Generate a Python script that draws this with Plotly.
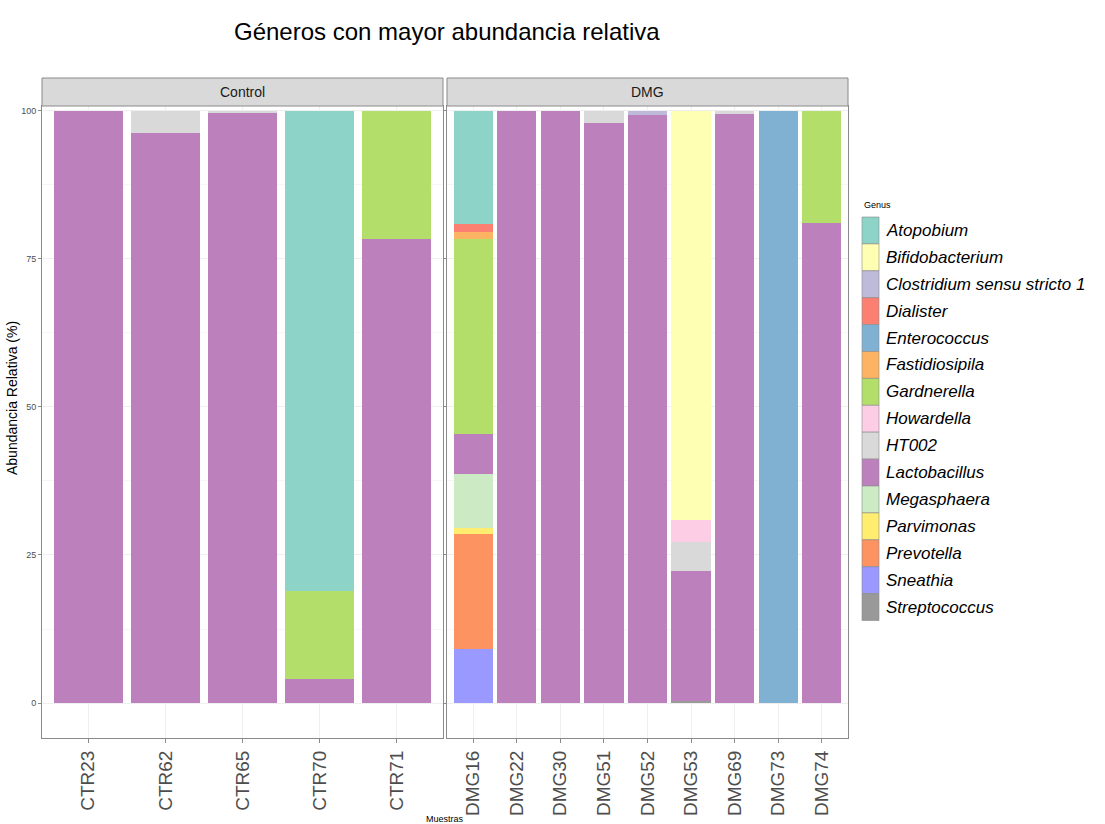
import plotly.graph_objects as go

# Samples per group (facet panels)
control_samples = ["CTR23", "CTR62", "CTR65", "CTR70", "CTR71"]
dmg_samples = ["DMG16", "DMG22", "DMG30", "DMG51", "DMG52", "DMG53", "DMG69", "DMG73", "DMG74"]

# Genus levels (legend order; first level drawn at the top of each stack)
genera = [
    "Atopobium", "Bifidobacterium", "Clostridium sensu stricto 1", "Dialister",
    "Enterococcus", "Fastidiosipila", "Gardnerella", "Howardella", "HT002",
    "Lactobacillus", "Megasphaera", "Parvimonas", "Prevotella", "Sneathia",
    "Streptococcus",
]

genus_colors = [
    "#8DD3C7", "#FFFFB3", "#BEBADA", "#FB8072", "#80B1D3", "#FDB462", "#B3DE69",
    "#FCCDE5", "#D9D9D9", "#BC80BD", "#CCEBC5", "#FFED6F", "#FC9360", "#9999FF",
    "#999999",
]

# Relative abundance (%) per genus: Control samples, then DMG samples
atopobium_ctrl = [0, 0, 0, 81.1, 0]
atopobium_dmg = [19.1, 0, 0, 0, 0, 0, 0, 0, 0]
bifidobacterium_ctrl = [0, 0, 0, 0, 0]
bifidobacterium_dmg = [0, 0, 0, 0, 0, 69.1, 0, 0, 0]
clostridium_ctrl = [0, 0, 0, 0, 0]
clostridium_dmg = [0, 0, 0, 0, 0.7, 0, 0, 0, 0]
dialister_ctrl = [0, 0, 0, 0, 0]
dialister_dmg = [1.3, 0, 0, 0, 0, 0, 0, 0, 0]
enterococcus_ctrl = [0, 0, 0, 0, 0]
enterococcus_dmg = [0, 0, 0, 0, 0, 0, 0, 100, 0]
fastidiosipila_ctrl = [0, 0, 0, 0, 0]
fastidiosipila_dmg = [1.3, 0, 0, 0, 0, 0, 0, 0, 0]
gardnerella_ctrl = [0, 0, 0, 14.9, 21.6]
gardnerella_dmg = [32.8, 0, 0, 0, 0, 0, 0, 0, 18.9]
howardella_ctrl = [0, 0, 0, 0, 0]
howardella_dmg = [0, 0, 0, 0, 0, 3.7, 0, 0, 0]
ht002_ctrl = [0, 3.8, 0.4, 0, 0]
ht002_dmg = [0, 0, 0, 2.0, 0, 4.9, 0.5, 0, 0]
lactobacillus_ctrl = [100, 96.2, 99.6, 4.0, 78.4]
lactobacillus_dmg = [6.9, 100, 100, 98.0, 99.3, 21.9, 99.5, 0, 81.1]
megasphaera_ctrl = [0, 0, 0, 0, 0]
megasphaera_dmg = [9.0, 0, 0, 0, 0, 0, 0, 0, 0]
parvimonas_ctrl = [0, 0, 0, 0, 0]
parvimonas_dmg = [1.1, 0, 0, 0, 0, 0, 0, 0, 0]
prevotella_ctrl = [0, 0, 0, 0, 0]
prevotella_dmg = [19.4, 0, 0, 0, 0, 0, 0, 0, 0]
sneathia_ctrl = [0, 0, 0, 0, 0]
sneathia_dmg = [9.1, 0, 0, 0, 0, 0, 0, 0, 0]
streptococcus_ctrl = [0, 0, 0, 0, 0]
streptococcus_dmg = [0, 0, 0, 0, 0, 0.4, 0, 0, 0]

ctrl_values = [
    atopobium_ctrl, bifidobacterium_ctrl, clostridium_ctrl, dialister_ctrl,
    enterococcus_ctrl, fastidiosipila_ctrl, gardnerella_ctrl, howardella_ctrl,
    ht002_ctrl, lactobacillus_ctrl, megasphaera_ctrl, parvimonas_ctrl,
    prevotella_ctrl, sneathia_ctrl, streptococcus_ctrl,
]
dmg_values = [
    atopobium_dmg, bifidobacterium_dmg, clostridium_dmg, dialister_dmg,
    enterococcus_dmg, fastidiosipila_dmg, gardnerella_dmg, howardella_dmg,
    ht002_dmg, lactobacillus_dmg, megasphaera_dmg, parvimonas_dmg,
    prevotella_dmg, sneathia_dmg, streptococcus_dmg,
]

y_ticks = [0, 25, 50, 75, 100]

W, H = 1105, 824
SANS = "Liberation Sans, Arial, sans-serif"


def px_x(p):
    return p / W


def px_y(p):
    return 1 - p / H


fig = go.Figure()

# Stack from the bottom up: last genus level first
for name, color, cv, dv in reversed(list(zip(genera, genus_colors, ctrl_values, dmg_values))):
    fig.add_trace(go.Bar(x=control_samples, y=cv, name=name, marker_color=color,
                         marker_line_width=0, xaxis="x", yaxis="y", showlegend=False))
    fig.add_trace(go.Bar(x=dmg_samples, y=dv, name=name, marker_color=color,
                         marker_line_width=0, xaxis="x2", yaxis="y2", showlegend=False))

panel_left = (42, 443)
panel_right = (447, 848)
panel_top, panel_bottom = 106, 738
strip_top = 78

axis_common = dict(
    type="category", showline=True, mirror=True, linecolor="#8A8A8A", linewidth=1,
    showgrid=True, gridcolor="#EFEFEF", gridwidth=1, ticks="outside", ticklen=4,
    tickcolor="#8A8A8A", tickangle=-90,
    tickfont=dict(family=SANS, size=19, color="#4D4D4D"), zeroline=False,
)
yaxis_common = dict(
    range=[-5.9, 100.8], tickvals=y_ticks, showline=True, mirror=True,
    linecolor="#8A8A8A", linewidth=1, showgrid=True, gridcolor="#EFEFEF",
    zeroline=False, ticks="outside", ticklen=3, tickcolor="#8A8A8A",
    minor=dict(showgrid=True, gridcolor="#F6F6F6", dtick=12.5, tick0=0),
    domain=[px_y(panel_bottom), px_y(panel_top)],
)

fig.update_layout(
    width=W, height=H,
    margin=dict(l=0, r=0, t=0, b=0),
    paper_bgcolor="white", plot_bgcolor="white",
    barmode="stack", bargap=0.1,
    showlegend=False,
    xaxis=dict(axis_common, domain=[px_x(panel_left[0]), px_x(panel_left[1])],
               range=[-0.6, len(control_samples) - 0.4], anchor="y"),
    xaxis2=dict(axis_common, domain=[px_x(panel_right[0]), px_x(panel_right[1])],
                range=[-0.6, len(dmg_samples) - 0.4], anchor="y2"),
    yaxis=dict(yaxis_common, anchor="x",
               tickfont=dict(family=SANS, size=9, color="#4D4D4D")),
    yaxis2=dict(yaxis_common, anchor="x2", matches="y", showticklabels=False),
)

shapes = []
annotations = []

# Facet strips
for (x0, x1), label in [(panel_left, "Control"), (panel_right, "DMG")]:
    shapes.append(dict(type="rect", xref="paper", yref="paper",
                       x0=px_x(x0), x1=px_x(x1), y0=px_y(panel_top), y1=px_y(strip_top),
                       fillcolor="#D9D9D9", line=dict(color="#8A8A8A", width=1)))
    annotations.append(dict(xref="paper", yref="paper", x=px_x((x0 + x1) / 2),
                            y=px_y((strip_top + panel_top) / 2), text=label,
                            showarrow=False, xanchor="center", yanchor="middle",
                            font=dict(family=SANS, size=14, color="#1A1A1A")))

# Title and axis titles
annotations.append(dict(xref="paper", yref="paper", x=px_x(447), y=px_y(31),
                        text="Géneros con mayor abundancia relativa", showarrow=False,
                        xanchor="center", yanchor="middle",
                        font=dict(family=SANS, size=24, color="black")))
annotations.append(dict(xref="paper", yref="paper", x=px_x(12), y=px_y(398),
                        text="Abundancia Relativa (%)", showarrow=False, textangle=-90,
                        xanchor="center", yanchor="middle",
                        font=dict(family=SANS, size=14, color="black")))
annotations.append(dict(xref="paper", yref="paper", x=px_x(445), y=px_y(819),
                        text="Muestras", showarrow=False, xanchor="center", yanchor="middle",
                        font=dict(family=SANS, size=9, color="black")))

# Legend drawn as keys with labels
leg_x0, leg_x1 = 862, 879
leg_top, leg_step = 217, 26.9
annotations.append(dict(xref="paper", yref="paper", x=px_x(leg_x0), y=px_y(205),
                        text="Genus", showarrow=False, xanchor="left", yanchor="middle",
                        font=dict(family=SANS, size=9, color="black")))
for i, (name, color) in enumerate(zip(genera, genus_colors)):
    y0 = leg_top + i * leg_step
    y1 = y0 + leg_step
    shapes.append(dict(type="rect", xref="paper", yref="paper",
                       x0=px_x(leg_x0), x1=px_x(leg_x1), y0=px_y(y1), y1=px_y(y0),
                       fillcolor=color, line=dict(color="#8A8A8A", width=0.6)))
    annotations.append(dict(xref="paper", yref="paper", x=px_x(884), y=px_y((y0 + y1) / 2),
                            text="<i>" + name + "</i>", showarrow=False,
                            xanchor="left", yanchor="middle",
                            font=dict(family=SANS, size=17, color="black")))

fig.update_layout(shapes=shapes, annotations=annotations)

fig.write_html("out.html")
